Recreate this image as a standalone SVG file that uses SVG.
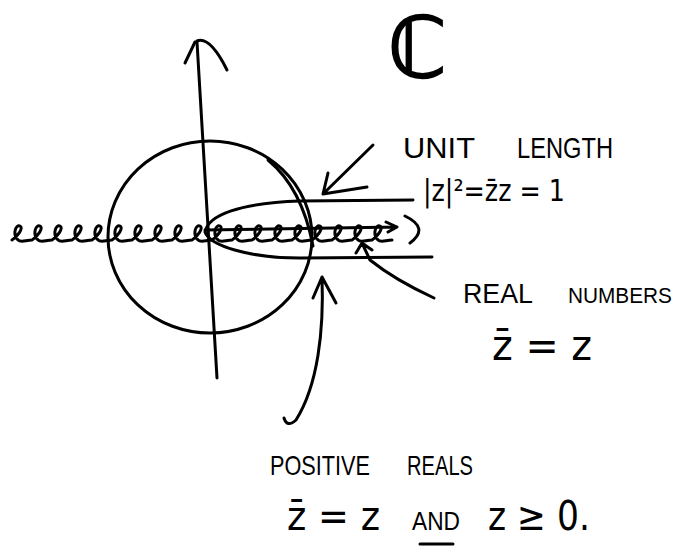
<svg xmlns="http://www.w3.org/2000/svg" width="687" height="560" viewBox="0 0 687 560">
<style>
.s{fill:none;stroke:#000;stroke-width:3;stroke-linecap:round;stroke-linejoin:round}
.t{font-family:"Liberation Sans","DejaVu Sans",sans-serif;fill:#000}
.m{font-family:"DejaVu Sans",sans-serif;fill:#000}
</style>
<rect width="687" height="560" fill="#fff"/>
<g id="complex-symbol">
<text class="m" x="417" y="77" font-size="84" stroke="#000" stroke-width="2" text-anchor="middle">ℂ</text>
</g>
<g id="imaginary-axis">
<path class="s" d="M197 42 L217 378"/>
<path class="s" d="M195 42 L185 63 M197 41 Q210 36 227 70"/>
</g>
<g id="unit-circle">
<ellipse class="s" cx="210" cy="237" rx="102" ry="96"/>
<path class="s" d="M268 160 Q302 188 313 246"/>
</g>
<g id="real-axis">
<path class="s" stroke-width="2.5" d="M12 240 c5 -3 12 -12 8 -14 c-4 -2 -8 8 -2 14 c3 3 8 0 14 0 c5 -3 12 -12 8 -14 c-4 -2 -8 8 -2 14 c3 3 8 0 14 0 c5 -3 12 -12 8 -14 c-4 -2 -8 8 -2 14 c3 3 8 0 14 0 c5 -3 12 -12 8 -14 c-4 -2 -8 8 -2 14 c3 3 8 0 14 0 c5 -3 12 -12 8 -14 c-4 -2 -8 8 -2 14 c3 3 8 0 14 0 c5 -3 12 -12 8 -14 c-4 -2 -8 8 -2 14 c3 3 8 0 14 0 c5 -3 12 -12 8 -14 c-4 -2 -8 8 -2 14 c3 3 8 0 14 0 c5 -3 12 -12 8 -14 c-4 -2 -8 8 -2 14 c3 3 8 0 14 0 c5 -3 12 -12 8 -14 c-4 -2 -8 8 -2 14 c3 3 8 0 14 0 c5 -3 12 -12 8 -14 c-4 -2 -8 8 -2 14 c3 3 8 0 14 0 c5 -3 12 -12 8 -14 c-4 -2 -8 8 -2 14 c3 3 8 0 14 0 c5 -3 12 -12 8 -14 c-4 -2 -8 8 -2 14 c3 3 8 0 14 0 c5 -3 12 -12 8 -14 c-4 -2 -8 8 -2 14 c3 3 8 0 14 0 c5 -3 12 -12 8 -14 c-4 -2 -8 8 -2 14 c3 3 8 0 14 0 c5 -3 12 -12 8 -14 c-4 -2 -8 8 -2 14 c3 3 8 0 14 0 c5 -3 12 -12 8 -14 c-4 -2 -8 8 -2 14 c3 3 8 0 14 0 c5 -3 12 -12 8 -14 c-4 -2 -8 8 -2 14 c3 3 8 0 14 0 c5 -3 12 -12 8 -14 c-4 -2 -8 8 -2 14 c3 3 8 0 14 0 c5 -3 12 -12 8 -14 c-4 -2 -8 8 -2 14 c3 3 8 0 14 0"/>
</g>
<g id="positive-reals">
<path class="s" d="M413 200 L300 201 C240 203 208 215 205 232 C210 246 250 258 300 258 L432 257"/>
<path class="s" stroke-width="2.5" d="M205 230 L397 227 M386 222 L397 227 L388 232 M405 216 Q430 228 410 243"/>
</g>
<g id="label-unit-length">
<text class="t" x="403" y="158" font-size="29" textLength="72" lengthAdjust="spacingAndGlyphs">UNIT</text>
<text class="t" x="517" y="158" font-size="29" textLength="96" lengthAdjust="spacingAndGlyphs">LENGTH</text>
<text class="m" x="423" y="201" font-size="30" textLength="142" lengthAdjust="spacingAndGlyphs">|z|²=z̄z = 1</text>
</g>
<g id="label-real-numbers">
<text class="t" x="463" y="303" font-size="27" textLength="70" lengthAdjust="spacingAndGlyphs">REAL</text>
<text class="t" x="620" y="303" font-size="22" text-anchor="middle" textLength="104" lengthAdjust="spacingAndGlyphs">NUMBERS</text>
<text class="m" x="492" y="360" font-size="42" textLength="100" lengthAdjust="spacingAndGlyphs">z̄ = z</text>
</g>
<g id="label-positive-reals">
<text class="t" x="270" y="475" font-size="28" textLength="100" lengthAdjust="spacingAndGlyphs">POSITIVE</text>
<text class="t" x="407" y="475" font-size="28" textLength="66" lengthAdjust="spacingAndGlyphs">REALS</text>
<text class="m" x="287" y="530" font-size="40" textLength="93" lengthAdjust="spacingAndGlyphs">z̄ = z</text>
<text class="t" x="412" y="530" font-size="26" textLength="48" lengthAdjust="spacingAndGlyphs">AND</text>
<line class="s" x1="420" y1="544" x2="453" y2="544"/>
<text class="m" x="488" y="530" font-size="40" textLength="102" lengthAdjust="spacingAndGlyphs">z ≥ 0.</text>
</g>
<g id="connectors">
<path class="s" d="M373 145 L323 194 M323 194 L328 173 M323 194 L367 187"/>
<path class="s" d="M434 298 Q395 280 370 260 L362 243 M362 243 L356 253 M362 243 L372 250"/>
<path class="s" d="M284 418 Q287 428 296 420 C318 385 324 330 322 277 M322 277 L313 298 M322 277 L336 303"/>
</g>
</svg>
